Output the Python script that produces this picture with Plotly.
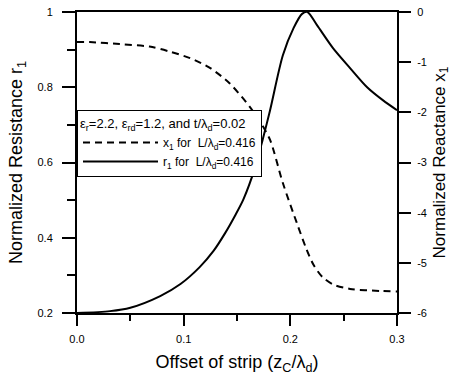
import plotly.graph_objects as go

# Dashed curve: normalized reactance x1 (right axis)
x_react = [0.0, 0.012, 0.040, 0.068, 0.087, 0.106, 0.125, 0.143, 0.162, 0.172, 0.181,
           0.193, 0.206, 0.215, 0.222, 0.230, 0.240, 0.256, 0.284, 0.3]
x1_vals = [-0.60, -0.60, -0.64, -0.69, -0.79, -0.92, -1.12, -1.42, -1.89, -2.2, -2.55,
           -3.41, -4.2, -4.72, -5.05, -5.28, -5.43, -5.52, -5.56, -5.57]

# Solid curve: normalized resistance r1 (left axis)
x_res = [0.0, 0.031, 0.050, 0.078, 0.097, 0.115, 0.128, 0.139, 0.148, 0.156, 0.167,
         0.174, 0.181, 0.193, 0.203, 0.211, 0.216, 0.225, 0.240, 0.256, 0.272, 0.287, 0.3]
r1_vals = [0.200, 0.205, 0.214, 0.245, 0.277, 0.322, 0.365, 0.413, 0.458, 0.502, 0.587,
           0.660, 0.739, 0.885, 0.957, 0.995, 1.0, 0.965, 0.904, 0.851, 0.800, 0.765, 0.739]

x_ticks = [0.0, 0.1, 0.2, 0.3]
r_ticks = [0.2, 0.4, 0.6, 0.8, 1.0]
r_tick_labels = ["0.2", "0.4", "0.6", "0.8", "1"]
x1_ticks = [0, -1, -2, -3, -4, -5, -6]
x1_tick_labels = ["0", "-1", "-2", "-3", "-4", "-5", "-6"]

legend_title = "ε<sub>r</sub>=2.2, ε<sub>rd</sub>=1.2, and t/λ<sub>d</sub>=0.02"
name_x1 = "x<sub>1</sub> for  L/λ<sub>d</sub>=0.416"
name_r1 = "r<sub>1</sub> for  L/λ<sub>d</sub>=0.416"

FONT = "Arial, Liberation Sans, sans-serif"

fig = go.Figure()
fig.add_trace(go.Scatter(x=x_react, y=x1_vals, mode="lines", name=name_x1, yaxis="y2",
                         line=dict(color="black", width=2, dash="7px,5px", shape="spline", smoothing=0.8)))
fig.add_trace(go.Scatter(x=x_res, y=r1_vals, mode="lines", name=name_r1, yaxis="y",
                         line=dict(color="black", width=2, shape="spline", smoothing=0.8)))

fig.update_layout(
    width=456, height=375,
    margin=dict(l=77, r=59, t=12, b=62),
    plot_bgcolor="white", paper_bgcolor="white",
    font=dict(family=FONT, color="black", size=11),
    showlegend=True,
    legend=dict(
        x=0.0, y=0.674, xanchor="left", yanchor="top",
        bgcolor="white", bordercolor="black", borderwidth=1,
        font=dict(size=12), itemwidth=75,
        title=dict(text=legend_title, font=dict(size=13)),
        tracegroupgap=0,
    ),
    xaxis=dict(
        range=[0, 0.3], tickvals=x_ticks, tickformat=".1f", automargin=False,
        showline=True, linecolor="black", linewidth=2, mirror=True,
        ticks="outside", ticklen=11, tickwidth=2, tickcolor="black",
        minor=dict(dtick=0.05, ticks="outside", ticklen=6, tickwidth=2, tickcolor="black"),
        showgrid=False, zeroline=False,
        tickfont=dict(size=11), ticklabelstandoff=4, ticklabeloverflow="allow",
        title=dict(text="Offset of strip (z<sub>C</sub>/λ<sub>d</sub>)", font=dict(size=18), standoff=14),
    ),
    yaxis=dict(
        range=[0.2, 1.0], tickvals=r_ticks, ticktext=r_tick_labels, automargin=False,
        showline=True, linecolor="black", linewidth=2,
        ticks="outside", ticklen=13, tickwidth=2, tickcolor="black",
        minor=dict(dtick=0.1, ticks="outside", ticklen=8, tickwidth=2, tickcolor="black"),
        showgrid=False, zeroline=False,
        tickfont=dict(size=11), ticklabelstandoff=7, ticklabeloverflow="allow",
        title=dict(text="Normalized Resistance r<sub>1</sub>", font=dict(size=18), standoff=10),
    ),
    yaxis2=dict(
        range=[-6, 0], tickvals=x1_ticks, ticktext=x1_tick_labels, automargin=False,
        overlaying="y", side="right",
        showline=True, linecolor="black", linewidth=2,
        ticks="outside", ticklen=12, tickwidth=2, tickcolor="black",
        showgrid=False, zeroline=False,
        tickfont=dict(size=11), ticklabelstandoff=4, ticklabeloverflow="allow",
        title=dict(text="Normalized Reactance x<sub>1</sub>", font=dict(size=17), standoff=7),
    ),
)

fig.write_html("out.html", config={"displayModeBar": False},
               post_script="document.body.style.margin='0';")
